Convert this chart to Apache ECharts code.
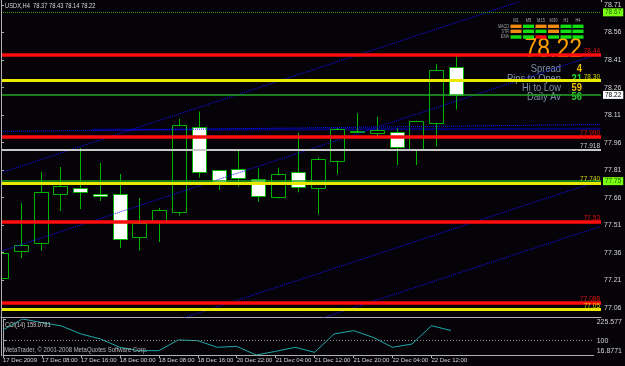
<!DOCTYPE html>
<html><head><meta charset="utf-8">
<script src="https://cdn.jsdelivr.net/npm/echarts@6/dist/echarts.min.js"></script>
<style>html,body{margin:0;padding:0;background:#050308;}#c{width:625px;height:366px;}</style>
</head><body><div id="c"></div>
<script>
// ---------- DATA ----------
const symbolTitle = 'USDX,H4  78.37 78.43 78.14 78.22';
const opens  = [77.22,77.37,77.413,77.680,77.713,77.680,77.680,77.446,77.533,77.580,78.047,77.809,77.818,77.762,77.662,77.798,77.711,77.860,78.020,78.011,78.020,77.927,78.067,78.37];
const highs  = [77.50,77.63,77.80,77.827,77.931,77.849,77.789,77.658,77.604,78.089,78.129,77.812,77.916,77.820,77.823,78.014,77.880,78.047,78.120,78.101,78.038,78.080,78.388,78.43];
const lows   = [77.16,77.33,77.37,77.587,77.598,77.642,77.386,77.37,77.418,77.562,77.769,77.702,77.720,77.638,77.655,77.689,77.569,77.787,78.011,77.984,77.838,77.838,77.938,78.14];
const closes = [77.36,77.402,77.691,77.724,77.691,77.669,77.435,77.522,77.593,78.058,77.798,77.742,77.769,77.671,77.789,77.720,77.871,78.033,78.024,78.029,77.938,78.076,78.356,78.22];
const cciValues = [162,225.577,205,185,139,110,61.5,42,42,104,100,61.5,67,16.8771,38,61.5,32.5,139,158,119.5,61.5,80.5,186.7,159.0781];
const cciLabel = 'CCI(14) 159.0781';
const timeTickBars = [0,2,4,6,8,10,12,14,16,18,20,22];
const timeTickLabels = ['17 Dec 2009','17 Dec 08:00','17 Dec 16:00','18 Dec 00:00','18 Dec 08:00','18 Dec 16:00','20 Dec 22:00','21 Dec 04:00','21 Dec 12:00','21 Dec 20:00','22 Dec 04:00','22 Dec 12:00'];
const priceTicks = [78.71,78.56,78.41,78.26,78.11,77.96,77.81,77.66,77.51,77.36,77.21,77.06];
const cciTicks = [225.577,100,16.8771];
const cciLevel = 100;
// horizontal level lines
const levelPrices = [78.44,78.30,77.99,77.918,77.74,77.53,77.088,77.05];
const levelTexts  = ['78.44','78.30','77.990','77.918','77.740','77.53','77.088','77.05'];
const levelKinds  = ['red','yellow','red','white','yellow','red','red','yellow'];
// boxed price markers
const markerPrices = [78.67,78.22,77.75];
const markerTexts  = ['78.67','78.22','77.75'];
const markerKinds  = ['dotgreen','current','green'];
// trend lines [barStart, priceStart, barEnd, priceEnd]
const trendL1 = [0,77.796,30.33,78.875];
const trendL2 = [0,77.368,30.33,78.447];
const trendL3 = [0,76.676,30.33,77.755];
const trendL4 = [0,76.426,30.33,77.505];
const trendFlat = [0,78.021,30.33,78.059];
const trendNavy = [4.6,78.030,30.33,78.036];
// info panel
const bigPrice = '78.22';
const infoNames = ['Spread','Pips to Open','Hi to Low','Daily Av'];
const infoValues = ['4','21','59','56'];
const tfNames = ['M1','M5','M15','M30','H1','H4'];
const sigNames = ['MACD','STR','EMA'];
const sigStates = [['o','g','o','o','g','g'],['o','g','g','o','g','g'],['g','g','r','g','g','g']];
const copyright = 'MetaTrader, \u00a9 2001-2008 MetaQuotes Software Corp.';

// ---------- STYLE ----------
const FONT = 'Liberation Sans';
const CANDLE_GREEN = '#00b400';
const AXIS_TXT = '#d4d4d4';
const BORDER = '#b0b0b0';
const kindStyle = {
  red:{color:'#ff0c0c',width:3.5,text:'#e01010'},
  yellow:{color:'#eaea00',width:3,text:'#d8d800'},
  white:{color:'#c8c8c8',width:2,text:'#d0d0d0'}
};
const markerStyle = {
  dotgreen:{color:'#3aa000',type:'dotted',width:1,bg:'#7aff10',fg:'#1a5a00'},
  current:{color:'#1fa81f',type:'solid',width:1.5,bg:'#ffffff',fg:'#000000'},
  green:{color:'#1fa81f',type:'solid',width:1.5,bg:'#7aff10',fg:'#1a5a00'}
};
const sigColor = {o:'#f08a10',g:'#10e010',r:'#ff1010'};

const chart = echarts.init(document.getElementById('c'));
const candleData = opens.map((o,i)=>[i,o,closes[i],lows[i],highs[i]]);
const cciData = cciValues.map((v,i)=>[i,v]);
const seg = t => [[t[0],t[1]],[t[2],t[3]]];

const levelMarks = levelPrices.map((p,i)=>{
  const s = kindStyle[levelKinds[i]];
  return {yAxis:p, lineStyle:{color:s.color,width:s.width,type:'solid'},
    label:{show:true,formatter:levelTexts[i],position:'insideEndTop',distance:[1,0],color:s.text,fontSize:6.5,fontFamily:FONT}};
});
const markerMarks = markerPrices.map((p,i)=>{
  const s = markerStyle[markerKinds[i]];
  return {yAxis:p, lineStyle:{color:s.color,width:s.width,type:s.type},
    label:{show:true,formatter:markerTexts[i],position:'end',distance:2,color:s.fg,backgroundColor:s.bg,padding:[1,2,0,2],fontSize:6.5,fontFamily:FONT}};
});

function trendSeries(t, color, type, width, z){
  return {type:'line',xAxisIndex:0,yAxisIndex:0,data:seg(t),symbol:'none',silent:true,clip:true,z:z,
    lineStyle:{color:color,type:type,width:width},animation:false};
}

const graphics = [];
graphics.push({type:'line',shape:{x1:1.5,y1:0,x2:1.5,y2:356},style:{stroke:BORDER,lineWidth:1},z:10});
graphics.push({type:'line',shape:{x1:601.5,y1:0,x2:601.5,y2:2},style:{stroke:BORDER,lineWidth:1},z:10});
graphics.push({type:'text',x:5,y:6,scaleX:0.8,z:10,style:{text:symbolTitle,fill:'#d8d8d8',font:'7.2px '+FONT,align:'left',verticalAlign:'middle'}});
graphics.push({type:'text',x:5,y:325,scaleX:0.82,z:10,style:{text:cciLabel,fill:'#c8c8c8',font:'7px '+FONT,align:'left',verticalAlign:'middle'}});
graphics.push({type:'text',x:4,y:350,scaleX:0.85,z:10,style:{text:copyright,fill:'#b8b8b8',font:'7px '+FONT,align:'left',verticalAlign:'middle'}});
graphics.push({type:'text',x:582,y:50,scaleX:0.85,z:1,style:{text:bigPrice,fill:'#ffa000',font:'27px '+FONT,align:'right',verticalAlign:'middle'}});
const infoRowY = [69,78.5,88,97];
const infoColors = ['#f0c000','#22dd22','#f0c000','#33cc33'];
infoNames.forEach((n,i)=>{
  graphics.push({type:'text',x:561,y:infoRowY[i],scaleX:0.85,z:1,style:{text:n,fill:'#7f90aa',font:'11px '+FONT,align:'right',verticalAlign:'middle'}});
  graphics.push({type:'text',x:582,y:infoRowY[i],scaleX:0.85,z:1,style:{text:infoValues[i],fill:infoColors[i],font:'bold 11px '+FONT,align:'right',verticalAlign:'middle'}});
});
const colX = [516,528.5,541,553.5,566,578];
const rowY = [26.3,31.3,37];
tfNames.forEach((n,j)=>{
  graphics.push({type:'text',x:colX[j],y:20.5,scaleX:0.8,z:1,style:{text:n,fill:'#a8a8a8',font:'5px '+FONT,align:'center',verticalAlign:'middle'}});
});
sigNames.forEach((n,i)=>{
  graphics.push({type:'text',x:509,y:rowY[i],scaleX:0.75,z:1,style:{text:n,fill:'#a0a0a0',font:'5px '+FONT,align:'right',verticalAlign:'middle'}});
  sigStates[i].forEach((s,j)=>{
    graphics.push({type:'rect',shape:{x:colX[j]-5.5,y:rowY[i]-1.7,width:11,height:3.4},style:{fill:sigColor[s]},z:1});
  });
});

const cciMax = cciTicks[0], cciMin = cciTicks[2];
const option = {
  backgroundColor:'#050308',
  animation:false,
  textStyle:{fontFamily:FONT},
  grid:[
    {left:1,top:2,width:600,height:315},
    {left:1,top:319,width:600,height:36}
  ],
  xAxis:[
    {type:'value',gridIndex:0,min:0,max:30.33,axisLabel:{show:false},axisTick:{show:false},splitLine:{show:false},
      axisLine:{show:true,onZero:false,lineStyle:{color:BORDER,width:1}}},
    {type:'value',gridIndex:1,min:0,max:30.33,splitLine:{show:false},
      axisLine:{show:true,onZero:false,lineStyle:{color:BORDER,width:1}},
      axisTick:{show:true,customValues:timeTickBars,length:3,lineStyle:{color:BORDER}},
      axisLabel:{show:true,customValues:timeTickBars,formatter:(v)=>{const k=timeTickBars.indexOf(Math.round(v));return k>=0?timeTickLabels[k]:'';},
        align:'left',margin:2,fontSize:6,color:AXIS_TXT,fontFamily:FONT}}
  ],
  yAxis:[
    {type:'value',gridIndex:0,position:'right',min:77.0097,max:78.7263,splitLine:{show:false},
      axisLine:{show:true,lineStyle:{color:BORDER,width:1}},
      axisTick:{show:true,customValues:priceTicks,length:3,lineStyle:{color:BORDER}},
      axisLabel:{show:true,customValues:priceTicks,formatter:v=>v.toFixed(2),margin:3,fontSize:7,color:AXIS_TXT,fontFamily:FONT}},
    {type:'value',gridIndex:1,position:'right',min:cciMin,max:cciMax,splitLine:{show:false},
      axisLine:{show:true,lineStyle:{color:BORDER,width:1}},
      axisTick:{show:true,customValues:cciTicks,length:3,lineStyle:{color:BORDER}},
      axisLabel:{show:true,customValues:cciTicks,margin:3,fontSize:7,color:AXIS_TXT,fontFamily:FONT,
        formatter:v=>{const s=String(v); if(Math.abs(v-cciMax)<1e-6) return '{dn|'+s+'}'; if(Math.abs(v-cciMin)<1e-6) return '{up|'+s+'}'; return s;},
        rich:{dn:{padding:[7,0,0,0],fontSize:7,color:AXIS_TXT,fontFamily:FONT},up:{padding:[0,0,7,0],fontSize:7,color:AXIS_TXT,fontFamily:FONT}}}}
  ],
  graphic:graphics,
  series:[
    {type:'line',xAxisIndex:0,yAxisIndex:0,data:[],z:2,silent:true,
      markLine:{symbol:['none','none'],silent:true,animation:false,data:levelMarks.concat(markerMarks)}},
    trendSeries(trendNavy,'#00006e','solid',2,2),
    {type:'custom',xAxisIndex:0,yAxisIndex:0,z:3,clip:true,data:candleData,encode:{x:0,y:[1,2,3,4]},
      renderItem:function(params,api){
        const i=api.value(0),o=api.value(1),c=api.value(2),l=api.value(3),h=api.value(4);
        const po=api.coord([i,o]),pc=api.coord([i,c]),pl=api.coord([i,l]),ph=api.coord([i,h]);
        const cx=Math.round(po[0])+0.5;
        const top=Math.round(Math.min(po[1],pc[1]))+0.5, bot=Math.round(Math.max(po[1],pc[1]))+0.5;
        const bull=c>=o;
        const ch=[];
        if(ph[1]<top) ch.push({type:'line',shape:{x1:cx,y1:ph[1],x2:cx,y2:top},style:{stroke:CANDLE_GREEN,lineWidth:1}});
        if(pl[1]>bot) ch.push({type:'line',shape:{x1:cx,y1:bot,x2:cx,y2:pl[1]},style:{stroke:CANDLE_GREEN,lineWidth:1}});
        ch.push({type:'rect',shape:{x:cx-7,y:top,width:14,height:Math.max(bot-top,1)},
          style:{fill:bull?'rgba(0,0,0,0)':'#ffffff',stroke:CANDLE_GREEN,lineWidth:1}});
        return {type:'group',children:ch};
      }},
    trendSeries(trendL1,'#1010ff','dotted',1,4),
    trendSeries(trendL2,'#1010ff','dotted',1,4),
    trendSeries(trendL3,'#1010ff','dotted',1,4),
    trendSeries(trendL4,'#1010ff','dotted',1,4),
    trendSeries(trendFlat,'#1010ff','dotted',1,4),
    {type:'line',xAxisIndex:1,yAxisIndex:1,data:cciData,symbol:'none',clip:true,z:3,
      lineStyle:{color:'#22a8a8',width:1},
      markLine:{symbol:['none','none'],silent:true,label:{show:false},lineStyle:{color:'#8a8a8a',type:[1,2],width:1},data:[{yAxis:cciLevel}]}}
  ]
};
chart.setOption(option);
</script></body></html>
